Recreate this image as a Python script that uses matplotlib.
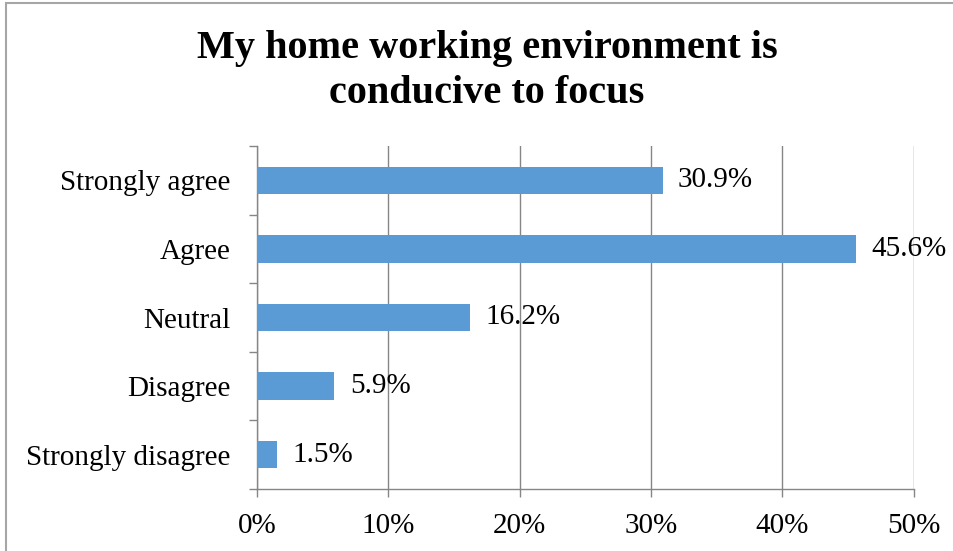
import matplotlib.pyplot as plt
from matplotlib.patches import Rectangle
from matplotlib.ticker import MultipleLocator, FuncFormatter

# =====================================================
# Data
# =====================================================

categories = ['Strongly agree', 'Agree', 'Neutral', 'Disagree', 'Strongly disagree']
percent = [30.9, 45.6, 16.2, 5.9, 1.5]

TITLE = 'My home working environment is\nconducive to focus'

BAR_COLOR = '#5B9BD5'
AXIS_COLOR = '#868686'
FS = 21

plt.rcParams['font.family'] = ['Liberation Serif', 'DejaVu Serif']

# =====================================================
# Figure / axes
# =====================================================

fig = plt.figure(figsize=(9.54, 5.51), dpi=100)
W, H = 954, 551

ax = fig.add_axes([257 / W, 1 - 489 / H, (913.5 - 257) / W, (489 - 146) / H])

ypos = list(range(len(categories)))
ax.barh(ypos, percent, height=0.4, color=BAR_COLOR, zorder=3)

ax.set_xlim(0, 50)
ax.set_ylim(len(categories) - 0.5, -0.5)

# data labels
for y, v in zip(ypos, percent):
    ax.annotate(f'{v:.1f}%', xy=(v, y), xytext=(11, 0),
                textcoords='offset points', va='center', ha='left',
                fontsize=FS, color='black', zorder=4)

# =====================================================
# Axes styling
# =====================================================

ax.xaxis.set_major_locator(MultipleLocator(10))
ax.xaxis.set_major_formatter(FuncFormatter(lambda x, _: f'{x:.0f}%'))
ax.grid(axis='x', color=AXIS_COLOR, linewidth=1, zorder=0)

ax.set_yticks(ypos)
ax.set_yticklabels(categories, fontsize=FS)
ax.set_yticks([i - 0.5 for i in range(len(categories) + 1)], minor=True)
ax.tick_params(axis='y', which='major', length=0, pad=19)
ax.tick_params(axis='y', which='minor', length=6, width=1, color=AXIS_COLOR)
ax.tick_params(axis='x', length=6, width=1, color=AXIS_COLOR,
               labelsize=FS, pad=11)

for side in ['top', 'right']:
    ax.spines[side].set_visible(False)
for side in ['left', 'bottom']:
    ax.spines[side].set_color(AXIS_COLOR)
    ax.spines[side].set_linewidth(1)

# =====================================================
# Title and outer border
# =====================================================

fig.text(487 / W, 1 - 71 / H, TITLE, ha='center', va='center',
         fontsize=29, fontweight='bold', linespacing=1.3)

fig.add_artist(Rectangle((6 / W, -0.05), 1.1, 1 - 3 / H + 0.05,
                         transform=fig.transFigure, fill=False,
                         edgecolor='#A6A6A6', linewidth=1.5))

# =====================================================
# Save Figure
# =====================================================

plt.savefig('out.png', dpi=100)
